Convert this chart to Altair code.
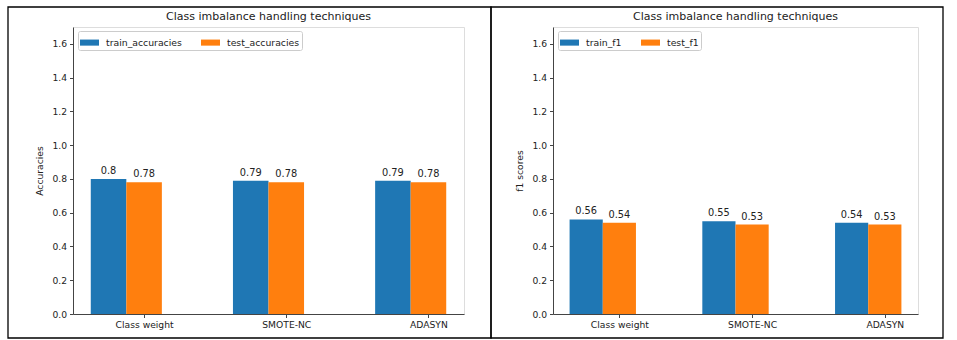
import altair as alt
import pandas as pd

techniques = ["Class weight", "SMOTE-NC", "ADASYN"]
train_accuracies = [0.80, 0.79, 0.79]
test_accuracies = [0.78, 0.78, 0.78]
train_f1 = [0.56, 0.55, 0.54]
test_f1 = [0.54, 0.53, 0.53]
y_ticks = [0.0, 0.2, 0.4, 0.6, 0.8, 1.0, 1.2, 1.4, 1.6]
chart_title = "Class imbalance handling techniques"

BLUE = "#1f77b4"
ORANGE = "#ff7f0e"
FONT = "DejaVu Sans"
TXT = "#222222"
BAR_W = 0.25


def fmt(v):
    return str(round(v, 2))


def panel(train, test, names, ytitle, width, box):
    rows = []
    for i, t in enumerate(techniques):
        rows.append({"idx": i, "side": -1, "series": names[0], "value": train[i], "label": fmt(train[i])})
        rows.append({"idx": i, "side": 1, "series": names[1], "value": test[i], "label": fmt(test[i])})
    df = pd.DataFrame(rows)
    height = 287

    label_list = "[" + ",".join("'" + t + "'" for t in techniques) + "]"
    tick_vals = [i + BAR_W / 2 for i in range(len(techniques))]
    xscale = alt.Scale(domain=[-1.5 * BAR_W, len(techniques) - 1 + 1.5 * BAR_W],
                       nice=False, zero=False, padding=0)
    xaxis = alt.Axis(title=None, labelAngle=0, values=tick_vals, grid=False,
                     labelExpr=label_list + f"[round(datum.value - {BAR_W / 2})]",
                     tickSize=3.5, labelPadding=3, labelFontSize=9.2, labelOverlap=False,
                     labelColor=TXT, domainColor="#444", tickColor="#444")
    yscale = alt.Scale(domain=[0, 1.7], nice=False, zero=True, padding=0)
    yaxis = alt.Axis(title=ytitle, values=y_ticks, format=".1f", grid=False,
                     labelOverlap=False, tickSize=3.5, labelPadding=3,
                     labelFontSize=9.2, labelColor=TXT, titleFontSize=9.2,
                     titleFontWeight="normal", titleColor=TXT, titlePadding=7,
                     domainColor="#444", tickColor="#444")
    color = alt.Color("series:N", sort=names,
                      scale=alt.Scale(domain=names, range=[BLUE, ORANGE]),
                      legend=alt.Legend(title=None, orient="none", legendX=5, legendY=4,
                                        direction="horizontal",
                                        symbolType="M-1,-0.32H1V0.32H-1Z",
                                        symbolSize=361, symbolStrokeWidth=0,
                                        labelFontSize=9.3, labelColor=TXT, labelFont=FONT,
                                        labelOffset=7, columnPadding=19,
                                        padding=2, strokeColor="#cccccc",
                                        fillColor="white", cornerRadius=2))

    base = alt.Chart(df).transform_calculate(
        xc=f"datum.idx + datum.side * {BAR_W / 2}",
        x0=f"datum.idx + datum.side * {BAR_W / 2} - {BAR_W / 2}",
        x1=f"datum.idx + datum.side * {BAR_W / 2} + {BAR_W / 2}")
    bars = base.mark_bar().encode(
        x=alt.X("x0:Q", scale=xscale, axis=xaxis), x2="x1:Q",
        y=alt.Y("value:Q", scale=yscale, axis=yaxis), y2=alt.datum(0),
        color=color)
    labels = base.mark_text(baseline="bottom", dy=-3, fontSize=9.8,
                            color=TXT, font=FONT).encode(
        x=alt.X("xc:Q", scale=xscale, axis=xaxis),
        y=alt.Y("value:Q", scale=yscale, axis=yaxis), text="label:N")
    deco = alt.Chart(pd.DataFrame({"t": [chart_title]}))
    frame = deco.mark_rect(fillOpacity=0, stroke="black", strokeWidth=1.3).encode(
        x=alt.value(box[0]), x2=alt.value(width + box[1]),
        y=alt.value(box[2]), y2=alt.value(height + box[3]))
    title = deco.mark_text(fontSize=11, color=TXT, font=FONT, baseline="middle",
                           align="center").encode(
        x=alt.value(width / 2), y=alt.value(-10), text="t:N")
    return alt.layer(bars, labels, frame, title).properties(width=width, height=height)


left = panel(train_accuracies, test_accuracies,
             ["train_accuracies", "test_accuracies"], "Accuracies", 391, (-65, 27, -20, 24))
right = panel(train_f1, test_f1, ["train_f1", "test_f1"], "f1 scores", 365, (-62, 25, -20, 24))

chart = alt.hconcat(left, right, spacing=-4).resolve_scale(
    color="independent", x="independent", y="independent").resolve_legend(
    color="independent").properties(
    padding={"left": 6, "top": 5, "right": 0, "bottom": 0},
    background="white").configure_view(
    stroke="#444", strokeWidth=0.9).configure(font=FONT)

chart.save("out.html", embed_options={"renderer": "svg", "actions": False})
